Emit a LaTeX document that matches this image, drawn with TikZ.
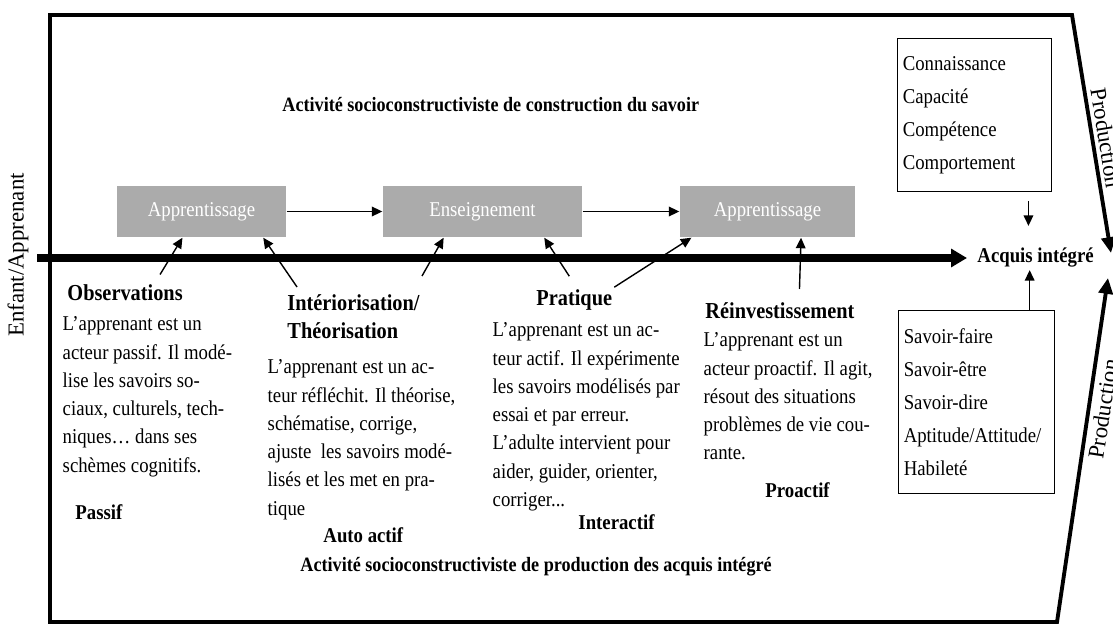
\documentclass[tikz,border=0pt]{standalone}
\usepackage{fontspec}
\setmainfont{Liberation Serif}[FakeStretch=0.89]
\newfontfamily\uprightserif{Liberation Serif}
\usetikzlibrary{arrows.meta}

\tikzset{
  phasebox/.style={fill=black!33, text=white, inner sep=0pt, minimum height=1.02cm, font=\fontsize{12}{14}\selectfont},
  stagelabel/.style={inner sep=1pt, font=\fontsize{13}{16}\selectfont\bfseries},
  modelabel/.style={anchor=west, inner sep=1pt, font=\fontsize{12}{14}\selectfont\bfseries},
  headline/.style={anchor=west, inner sep=1pt, font=\fontsize{11.6}{14}\selectfont\bfseries},
  paratext/.style={anchor=north west, inner sep=0pt, align=left, font=\fontsize{12}{16.1}\selectfont},
  listbox/.style={draw, line width=0.6pt, anchor=north west, align=left, inner xsep=3pt, font=\fontsize{12}{18.7}\selectfont},
  sidelabel/.style={font=\uprightserif\fontsize{13}{15}\selectfont}
}

\begin{document}
\begin{tikzpicture}[x=0.02cm, y=-0.02cm, >={Triangle[length=6pt,width=5.5pt]}, line width=0.8pt] %[scale=0.8]
      \useasboundingbox (0,0) rectangle (1113,625);
      \draw [line width=2.2pt, {Triangle[length=9pt,width=8pt]}-{Triangle[length=9pt,width=8pt]}]
        (1111,253) -- (1072,15) -- (50,15) -- (50,622) -- (1057,622) -- (1108,278);
      \node [sidelabel, rotate=90] (learner) at (18,255) {Enfant/Apprenant};
      \node [sidelabel, rotate=-80.8] (prodtop) at (1106,138) {Production};
      \node [sidelabel, rotate=81.4] (prodbot) at (1103,409) {Production};
      \node [headline] (build) at (280,105) {Activité socioconstructiviste de construction du savoir};
      \node [headline] (produce) at (298,567) {Activité socioconstructiviste de production des acquis intégré};
      \node [phasebox, minimum width=3.38cm] (app1) at (201.5,211.5) {Apprentissage};
      \node [phasebox, minimum width=3.98cm] (ens) at (482.5,211.5) {Enseignement};
      \node [phasebox, minimum width=3.5cm] (app2) at (767.5,211.5) {Apprentissage};
      \coordinate (start) at (37,258);
      \node [modelabel] (acq) at (975,258) {Acquis intégré};
      \node [listbox, text width=2.87cm, minimum height=3.06cm] (know) at (897,38) {Connaissance\\Capacité\\Compétence\\Comportement};
      \node [listbox, text width=2.91cm, minimum height=3.66cm] (skill) at (898,310) {Savoir-faire\\Savoir-être\\Savoir-dire\\Aptitude/Attitude/\\Habileté};
      \node [stagelabel, anchor=west] (obs) at (65,293) {Observations};
      \node [stagelabel, anchor=north west, align=left] (theo) at (285,292) {Intériorisation/\\Théorisation};
      \node [stagelabel, anchor=west] (prat) at (534,300) {Pratique};
      \node [stagelabel, anchor=west] (reinv) at (703,311) {Réinvestissement};
      \node [paratext] (obstext) at (62,316) {L’apprenant est un\\acteur passif. Il modé-\\lise les savoirs so-\\ciaux, culturels, tech-\\niques… dans ses\\schèmes cognitifs.};
      \node [paratext] (theotext) at (267,359) {L’apprenant est un ac-\\teur réfléchit. Il théorise,\\schématise, corrige,\\ajuste~ les savoirs modé-\\lisés et les met en pra-\\tique};
      \node [paratext] (pratext) at (492,322) {L’apprenant est un ac-\\teur actif. Il expérimente\\les savoirs modélisés par\\essai et par erreur.\\L’adulte intervient pour\\aider, guider, orienter,\\corriger...};
      \node [paratext] (reinvtext) at (703,332) {L’apprenant est un\\acteur proactif. Il agit,\\résout des situations\\problèmes de vie cou-\\rante.};
      \node [modelabel] (passive) at (73,512) {Passif};
      \node [modelabel] (autoactive) at (321,535) {Auto actif};
      \node [modelabel] (interactive) at (576,522) {Interactif};
      \node [modelabel] (proactive) at (763,490) {Proactif};
      \draw [line width=4pt, -{Triangle[length=9pt,width=10pt]}, shorten >=0.16cm] (start) -- (acq.west);
      \draw [->] (app1) -- (ens);
      \draw [->] (ens) -- (app2);
      \draw [->] ([xshift=0.7cm,yshift=0.16cm]obs.north) -- (app1.-126);
      \draw [->] ([xshift=-1.13cm,yshift=0.1cm]theo.north) -- (app1.-23);
      \draw [->] ([xshift=1.37cm,yshift=0.32cm]theo.north) -- (ens.-146);
      \draw [->] ([xshift=-0.1cm,yshift=0.22cm]prat.north) -- (ens.-23);
      \draw [->] ([xshift=0.8cm]prat.north) -- (app2.-161);
      \draw [->] ([xshift=0.39cm,yshift=0.23cm]reinv.north) -- (app2.-38);
      \draw [->, shorten <=0.18cm, shorten >=0.4cm] (know.-55) -- (know.-55 |- acq.north);
      \draw [->] (skill.60) -- (skill.60 |- acq.south);
    \end{tikzpicture}
\end{document}
